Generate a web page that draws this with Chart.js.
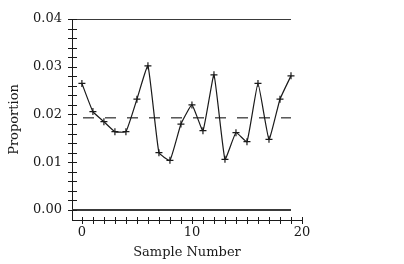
<!DOCTYPE html>
<html>
<head>
<meta charset="utf-8">
<script src="https://cdn.jsdelivr.net/npm/chart.js@4/dist/chart.umd.min.js"></script>
<style>
  html, body { margin: 0; padding: 0; background: #fff; }
  #wrap { width: 404px; height: 264px; }
</style>
</head>
<body>
<div id="wrap"><canvas id="pchart" width="404" height="264"></canvas></div>
<script>
const sampleNumbers = [0, 1, 2, 3, 4, 5, 6, 7, 8, 9, 10, 11, 12, 13, 14, 15, 16, 17, 18, 19];
const proportions = [0.0265, 0.0206, 0.0185, 0.0164, 0.0164, 0.0232, 0.0302, 0.0120, 0.0104, 0.0180,
                     0.0220, 0.0166, 0.0283, 0.0106, 0.0162, 0.0143, 0.0265, 0.0148, 0.0232, 0.0281];
const upperLimit = 0.04;
const centerLine = 0.0193;
const lowerLimit = 0.00;
const xTickLabels = [0, 10, 20];
const yTickLabels = [0.00, 0.01, 0.02, 0.03, 0.04];

const X_MIN = -0.9, X_MAX = 20;
const Y_MIN = -0.0021, Y_MAX = 0.04;
const INK = '#1a1a1a';
const FONT = { family: 'DejaVu Serif', size: 13 };

// horizontal reference line from the axis to the last sample
function hline(y) {
  return [{ x: X_MIN, y: y }, { x: sampleNumbers[sampleNumbers.length - 1], y: y }];
}

// tick marks that cross the axis lines (minor ticks too)
const crossTicks = {
  id: 'crossTicks',
  afterDraw(chart) {
    const { ctx, chartArea, scales: { x, y } } = chart;
    ctx.save();
    ctx.strokeStyle = INK;
    ctx.lineWidth = 1;
    ctx.beginPath();
    for (let i = 0; i <= 20; i++) {
      const v = Math.round(y.getPixelForValue(i * 0.002)) + 0.5;
      ctx.moveTo(chartArea.left - 4, v);
      ctx.lineTo(chartArea.left + 5, v);
    }
    for (let i = 0; i <= 20; i++) {
      const h = Math.round(x.getPixelForValue(i)) + 0.5;
      ctx.moveTo(h, chartArea.bottom - 3);
      ctx.lineTo(h, chartArea.bottom + 4);
    }
    ctx.stroke();
    ctx.restore();
  }
};

document.addEventListener('DOMContentLoaded', () => {
  const ctx = document.getElementById('pchart').getContext('2d');
  new Chart(ctx, {
    type: 'line',
    data: {
      datasets: [
        {
          data: sampleNumbers.map((n, i) => ({ x: n, y: proportions[i] })),
          borderColor: INK,
          borderWidth: 1.2,
          tension: 0.12,
          pointStyle: 'cross',
          pointRadius: 3.5,
          pointBorderColor: INK,
          pointBorderWidth: 1.2
        },
        { data: hline(upperLimit), borderColor: '#3a3a3a', borderWidth: 2, pointRadius: 0 },
        { data: hline(centerLine), borderColor: '#2a2a2a', borderWidth: 1.2, pointRadius: 0,
          borderDash: [11, 11], borderDashOffset: 11 },
        { data: hline(lowerLimit), borderColor: '#3a3a3a', borderWidth: 2, pointRadius: 0 }
      ]
    },
    options: {
      responsive: false,
      animation: false,
      layout: { padding: { top: 19, right: 102, bottom: 0, left: 0 } },
      plugins: { legend: { display: false }, tooltip: { enabled: false } },
      scales: {
        x: {
          type: 'linear',
          min: X_MIN,
          max: X_MAX,
          afterBuildTicks: s => { s.ticks = xTickLabels.map(v => ({ value: v })); },
          afterFit: s => { s.height = 44; },
          grid: { display: false, drawTicks: false },
          border: { display: true, color: INK, width: 1 },
          ticks: { color: INK, font: FONT, padding: 5, maxRotation: 0 },
          title: { display: true, text: 'Sample Number', color: INK, font: FONT, padding: { top: 0, bottom: 4 } }
        },
        y: {
          type: 'linear',
          min: Y_MIN,
          max: Y_MAX,
          afterBuildTicks: s => { s.ticks = yTickLabels.map(v => ({ value: v })); },
          afterFit: s => { s.width = 72; },
          grid: { display: false, drawTicks: false },
          border: { display: true, color: INK, width: 1 },
          ticks: { color: INK, font: FONT, padding: 10, callback: v => Number(v).toFixed(2) },
          title: { display: true, text: 'Proportion', color: INK, font: FONT, padding: { top: 7, bottom: 0 } }
        }
      }
    },
    plugins: [crossTicks]
  });
});
</script>
</body>
</html>
